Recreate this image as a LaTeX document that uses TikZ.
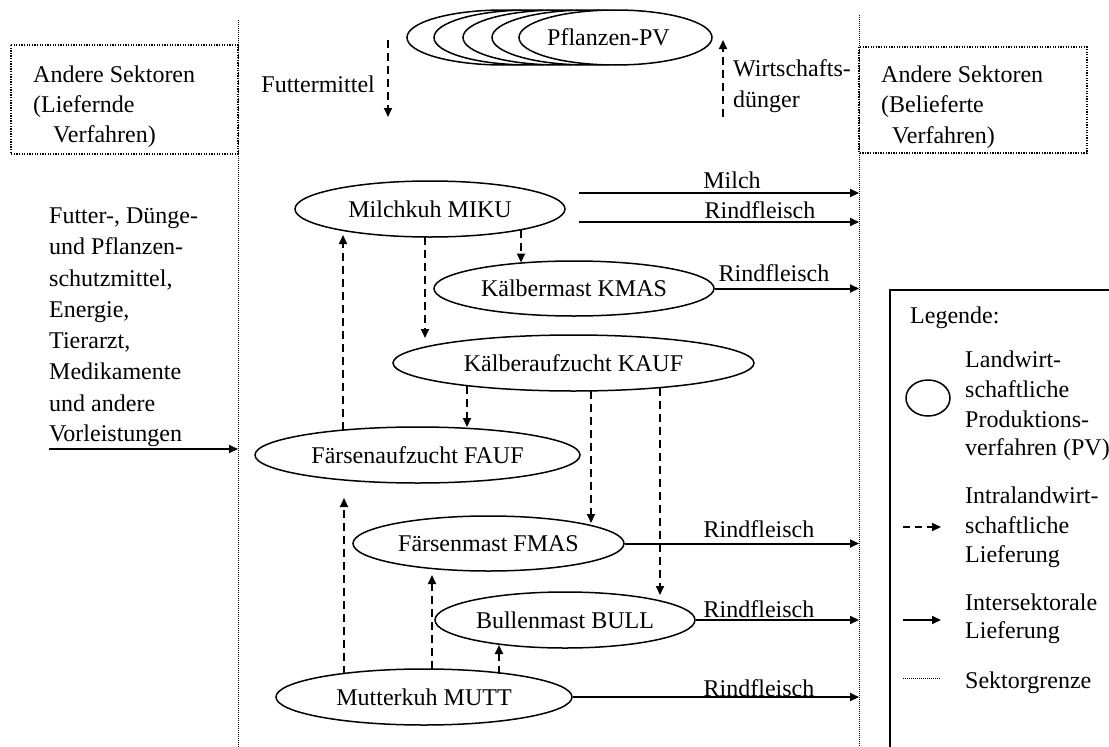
\documentclass[tikz,border=0pt]{standalone}
\usepackage{fontspec}
\setmainfont{Liberation Serif}
\usetikzlibrary{arrows.meta,shapes.geometric}
\begin{document}
\begin{tikzpicture}[x=1pt,y=-1pt,
  txt/.style={font=\fontsize{24}{30}\selectfont, inner sep=0pt, anchor=base west},
  lbl/.style={font=\fontsize{24}{30}\selectfont, inner sep=0pt, anchor=base},
  pv/.style={ellipse, draw, line width=1.5pt, fill=white, inner sep=0pt,
     font=\fontsize{24}{30}\selectfont},
  tip/.style={-{Triangle[length=9pt,width=8pt]}},
  dasharrow/.style={tip, line width=2pt, dash pattern=on 8pt off 5pt},
  solidarrow/.style={tip, line width=2pt},
  sectorline/.style={line width=1pt, dash pattern=on 1pt off 1pt},
  sectorbox/.style={line width=1.3pt, dash pattern=on 1.3pt off 1.3pt}
]
\useasboundingbox (0,0) rectangle (1109,747);
\clip (0,0) rectangle (1109,747);

% sector borders
\coordinate (Ltop) at (238,20);
\coordinate (Lbot) at (238,747);
\coordinate (Rtop) at (859,15);
\coordinate (Rbot) at (859,747);
\draw[sectorline] (Ltop) -- (Lbot);
\draw[sectorline] (Rtop) -- (Rbot);

% other sectors boxes
\draw[sectorbox] (11,45) rectangle (238,154);
\node[txt] (ls1) at (33,82) {Andere Sektoren};
\node[txt] (ls2) at (33,112) {(Liefernde};
\node[txt] (ls3) at (53,142) {Verfahren)};
\draw[sectorbox] (859,47) rectangle (1087,153);
\node[txt] (rs1) at (881,82) {Andere Sektoren};
\node[txt] (rs2) at (881,112) {(Belieferte};
\node[txt] (rs3) at (892,143) {Verfahren)};

% plant production processes
\node[pv, minimum width=193pt, minimum height=55pt] (P1) at (503.5,37.5) {};
\node[pv, minimum width=193pt, minimum height=55pt] (P2) at (530.5,37.5) {};
\node[pv, minimum width=193pt, minimum height=55pt] (P3) at (559.5,37.5) {};
\node[pv, minimum width=193pt, minimum height=55pt] (P4) at (588.5,37.5) {};
\node[pv, minimum width=193pt, minimum height=55pt] (P5) at (615.5,37.5) {\hspace*{-14pt}Pflanzen-PV};

\coordinate (fmA) at (388,40);
\coordinate (fmB) at (388,117);
\draw[dasharrow] (fmA) -- (fmB);
\node[txt, anchor=base east] (fmt) at (375,92) {Futtermittel};
\coordinate (wdA) at (723,117);
\coordinate (wdB) at (723,40);
\draw[dasharrow] (wdA) -- (wdB);
\node[txt] (wd1) at (733,76) {Wirtschafts-};
\node[txt] (wd2) at (733,107) {dünger};

% inputs
\node[txt] (in1) at (49,223) {Futter-, Dünge-};
\node[txt] (in2) at (49,254) {und Pflanzen-};
\node[txt] (in3) at (49,286) {schutzmittel,};
\node[txt] (in4) at (49,317) {Energie,};
\node[txt] (in5) at (49,348) {Tierarzt,};
\node[txt] (in6) at (49,379) {Medikamente};
\node[txt] (in7) at (49,411) {und andere};
\node[txt] (in8) at (49,441) {Vorleistungen};
\coordinate (inA) at (49,449);
\draw[solidarrow] (inA) -- (inA -| Ltop);

% animal production processes
\node[pv, minimum width=270pt, minimum height=56pt] (MIKU) at (430,209) {Milchkuh MIKU};
\node[pv, minimum width=280pt, minimum height=55pt] (KMAS) at (574,288.5) {Kälbermast KMAS};
\node[pv, minimum width=361pt, minimum height=56pt] (KAUF) at (573.5,363) {Kälberaufzucht KAUF};
\node[pv, minimum width=325pt, minimum height=56pt] (FAUF) at (417.5,455) {Färsenaufzucht FAUF};
\node[pv, minimum width=271pt, minimum height=55pt] (FMAS) at (488.5,543.5) {Färsenmast FMAS};
\node[pv, minimum width=260pt, minimum height=56pt] (BULL) at (565,620) {Bullenmast BULL};
\node[pv, minimum width=296pt, minimum height=56pt] (MUTT) at (424,697) {Mutterkuh MUTT};

% intra-agricultural deliveries (vertical)
\draw[dasharrow] ([shift={(-74.5,-25)}]FAUF.center) -- ([shift={(-87,26)}]MIKU.center);
\draw[dasharrow] ([shift={(-5,28)}]MIKU.center) -- ([shift={(-148.5,-25)}]KAUF.center);
\draw[dasharrow] ([shift={(91,21)}]MIKU.center) -- ([shift={(-53,-26)}]KMAS.center);
\draw[dasharrow] ([shift={(-106.5,22.6)}]KAUF.center) -- ([shift={(49.5,-28)}]FAUF.center);
\draw[dasharrow] ([shift={(17.5,28)}]KAUF.center) -- ([shift={(102.5,-20.5)}]FMAS.center);
\draw[dasharrow] ([shift={(86.5,24.6)}]KAUF.center) -- ([shift={(95,-25)}]BULL.center);
\draw[dasharrow] ([shift={(-80,-23.5)}]MUTT.center) -- ([shift={(-73.5,43)}]FAUF.center);
\draw[dasharrow] ([shift={(8,-28)}]MUTT.center) -- ([shift={(-56.5,31.5)}]FMAS.center);
\draw[dasharrow] ([shift={(75,-23)}]MUTT.center) -- ([shift={(-66,25)}]BULL.center);

% intersectoral deliveries
\coordinate (mi1) at (579,193);
\coordinate (mi2) at (579,222);
\draw[solidarrow] (mi1) -- (mi1 -| Rtop);
\node[lbl] (lmilch) at (732,188) {Milch};
\draw[solidarrow] (mi2) -- (mi2 -| Rtop);
\node[lbl] (lr1) at (760,218) {Rindfleisch};
\draw[solidarrow] (KMAS.east) -- (KMAS.east -| Rtop);
\node[lbl] (lr2) at (774,281) {Rindfleisch};
\draw[solidarrow] (FMAS.east) -- (FMAS.east -| Rtop);
\node[lbl] (lr3) at (759,537) {Rindfleisch};
\draw[solidarrow] (BULL.east) -- (BULL.east -| Rtop);
\node[lbl] (lr4) at (759,617) {Rindfleisch};
\draw[solidarrow] (MUTT.east) -- (MUTT.east -| Rtop);
\node[lbl] (lr5) at (759,696) {Rindfleisch};

% legend
\draw[line width=1.5pt] (890,290) rectangle (1130,770);
\node[txt] (lg0) at (910,323) {Legende:};
\node[ellipse, draw, line width=1.5pt, inner sep=0pt, minimum width=44pt, minimum height=36pt] (lgE) at (928,398) {};
\node[txt] (lg1) at (965,367) {Landwirt-};
\node[txt] (lg2) at (965,397) {schaftliche};
\node[txt] (lg3) at (965,427) {Produktions-};
\node[txt] (lg4) at (965,455) {verfahren (PV)};
\coordinate (lgdA) at (903,527);
\coordinate (lgdB) at (941,527);
\draw[dasharrow, dash pattern=on 7pt off 5pt] (lgdA) -- (lgdB);
\node[txt] (lg5) at (965,503) {Intralandwirt-};
\node[txt] (lg6) at (965,533) {schaftliche};
\node[txt] (lg7) at (965,562) {Lieferung};
\coordinate (lgsA) at (903,620);
\coordinate (lgsB) at (941,620);
\draw[solidarrow] (lgsA) -- (lgsB);
\node[txt] (lg8) at (965,610) {Intersektorale};
\node[txt] (lg9) at (965,638) {Lieferung};
\coordinate (lgpA) at (903,678);
\coordinate (lgpB) at (941,678);
\draw[sectorline] (lgpA) -- (lgpB);
\node[txt] (lg10) at (965,688) {Sektorgrenze};
\end{tikzpicture}
\end{document}
